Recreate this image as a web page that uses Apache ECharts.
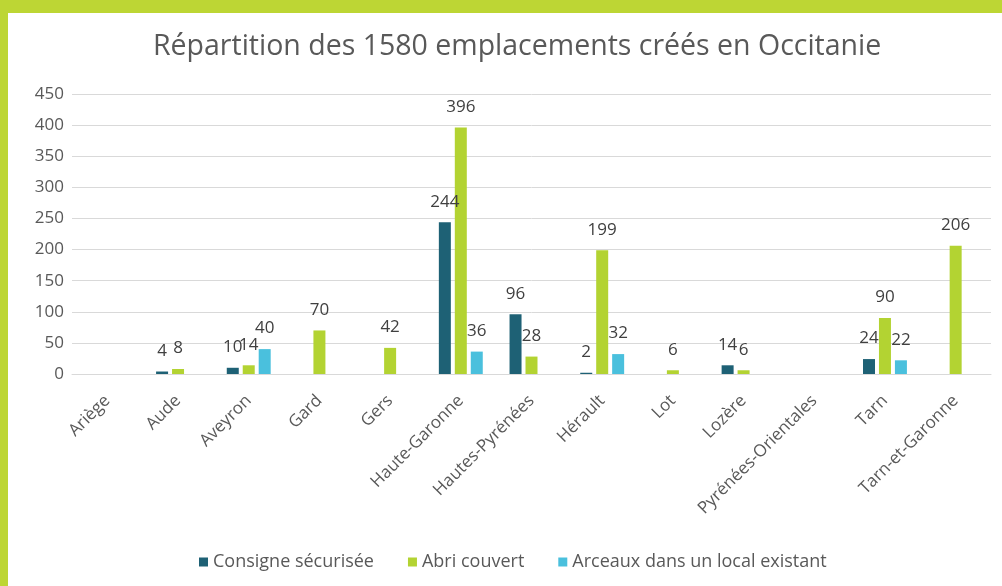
<!DOCTYPE html>
<html><head><meta charset="utf-8">
<script src="https://cdn.jsdelivr.net/npm/echarts@6/dist/echarts.min.js"></script>
<style>
html,body{margin:0;padding:0;background:#fff;}
#frame{position:absolute;left:0;top:0;width:1002px;height:586px;background:#bdd634;}
#chart{position:absolute;left:8px;top:13px;width:994px;height:573px;background:#fff;}
</style></head><body>
<div id="frame"></div>
<div id="chart"></div>
<script>
const categories = ['Ariège','Aude','Aveyron','Gard','Gers','Haute-Garonne','Hautes-Pyrénées','Hérault','Lot','Lozère','Pyrénées-Orientales','Tarn','Tarn-et-Garonne'];
const consigne = [null,4,10,null,null,244,96,2,null,14,null,24,null];
const abri = [null,8,14,70,42,396,28,199,6,6,null,90,206];
const arceaux = [null,null,40,null,null,36,null,32,null,null,null,22,null];
const seriesNames = ['Consigne sécurisée','Abri couvert','Arceaux dans un local existant'];
const titleText = 'Répartition des 1580 emplacements créés en Occitanie';
const yTicks = [0,50,100,150,200,250,300,350,400,450];

const FONT = 'Open Sans';
const chart = echarts.init(document.getElementById('chart'));
const lbl = {show:true, position:'top', distance:12, color:'#404040', fontSize:17, fontFamily:FONT};
chart.setOption({
  animation:false,
  title:{text:titleText, left:140, top:14, textStyle:{fontFamily:FONT, fontSize:28.5, fontWeight:'normal', color:'#595959'}},
  grid:{left:64, right:11, top:81, bottom:212},
  legend:{bottom:10, left:186, itemWidth:9, itemHeight:9, itemGap:34, icon:'rect',
    textStyle:{fontFamily:FONT, fontSize:18, color:'#595959'}},
  xAxis:{type:'category', data:categories,
    axisLine:{lineStyle:{color:'#d9d9d9'}}, axisTick:{show:false},
    axisLabel:{rotate:45, interval:0, fontFamily:FONT, fontSize:17, color:'#595959', margin:24}},
  yAxis:{type:'value', min:yTicks[0], max:yTicks[yTicks.length-1], interval:50,
    axisLine:{show:false}, axisTick:{show:false},
    splitLine:{lineStyle:{color:'#d9d9d9', width:1}},
    axisLabel:{fontFamily:FONT, fontSize:17, color:'#595959', margin:8}},
  series:[
    {name:seriesNames[0], type:'bar', data:consigne, barWidth:12, barGap:'33%', itemStyle:{color:'#1e6175'}, label:lbl},
    {name:seriesNames[1], type:'bar', data:abri, barWidth:12, barGap:'33%', itemStyle:{color:'#b3d332'}, label:lbl},
    {name:seriesNames[2], type:'bar', data:arceaux, barWidth:12, barGap:'33%', itemStyle:{color:'#4ac0dd'}, label:lbl}
  ]
});
</script></body></html>
